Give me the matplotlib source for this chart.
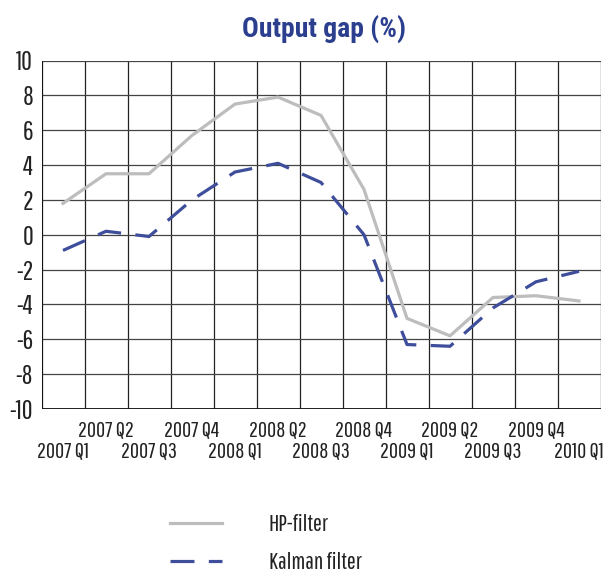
import matplotlib
matplotlib.use("Agg")
import matplotlib.pyplot as plt
from matplotlib.lines import Line2D
from matplotlib.ticker import FixedLocator

plt.rcParams['font.family'] = ['Pathway Gothic One', 'DejaVu Sans']

quarters = ['2007 Q1', '2007 Q2', '2007 Q3', '2007 Q4', '2008 Q1', '2008 Q2', '2008 Q3',
            '2008 Q4', '2009 Q1', '2009 Q2', '2009 Q3', '2009 Q4', '2010 Q1']
hp_filter = [1.8, 3.5, 3.5, 5.7, 7.5, 7.9, 6.85, 2.6, -4.8, -5.8, -3.6, -3.5, -3.8]
kalman_filter = [-0.9, 0.2, -0.1, 2.0, 3.6, 4.1, 3.0, 0.0, -6.3, -6.4, -4.2, -2.7, -2.1]
y_ticks = [-10, -8, -6, -4, -2, 0, 2, 4, 6, 8, 10]

W, H = 604, 574
fig = plt.figure(figsize=(W / 100, H / 100), dpi=100)
left, right, top, bottom = 41.5, 600.5, 60.5, 409.0
ax = fig.add_axes([left / W, 1 - bottom / H, (right - left) / W, (bottom - top) / H])

x = list(range(len(quarters)))
gray = '#BDBDBD'
blue = '#3E4E9B'
lw = 2.3
dash = (0, (7.5, 4.5))
ax.plot(x, hp_filter, color=gray, lw=lw, zorder=3)
ax.plot(x, kalman_filter, color=blue, lw=lw, linestyle=dash, zorder=4)

ax.set_xlim(-0.5, len(quarters) - 0.5)
ax.set_ylim(-10, 10)
ax.set_yticks(y_ticks)
ax.set_yticklabels([str(v) for v in y_ticks], fontsize=19, color='#222222')
ax.tick_params(axis='y', length=0, pad=6)

for b in range(len(quarters) + 1):
    ax.axvline(b - 0.5, color='#222222', lw=0.9, zorder=1)
for v in y_ticks:
    ax.axhline(v, color='#444444', lw=0.9, zorder=1)
ax.axhline(-10, color='#111111', lw=1.3, zorder=2)
ax.axvline(-0.5, color='#111111', lw=1.3, zorder=2)

# lower row (major): Q1, Q3, ...; upper row (minor): Q2, Q4, ...
major_idx = [i for i in x if i % 2 == 0]
minor_idx = [i for i in x if i % 2 == 1]
ax.xaxis.set_major_locator(FixedLocator(major_idx))
ax.xaxis.set_minor_locator(FixedLocator(minor_idx))
ax.set_xticklabels([quarters[i] for i in major_idx], fontsize=16, color='#222222')
ax.set_xticklabels([quarters[i] for i in minor_idx], minor=True, fontsize=16, color='#222222')
ax.tick_params(axis='x', which='major', length=0, pad=23)
ax.tick_params(axis='x', which='minor', length=0, pad=8)
for s in ax.spines.values():
    s.set_visible(False)

fig.text(324 / W, 1 - 29 / H, 'Output gap (%)', fontsize=20, fontweight='bold',
         color='#2B3F8E', ha='center', va='center',
         family=['Roboto Condensed', 'DejaVu Sans'])

handles = [Line2D([], [], color=gray, lw=lw),
           Line2D([], [], color=blue, lw=lw, linestyle=dash)]
fig.legend(handles, ['HP-filter', 'Kalman filter'], loc='upper left',
           bbox_to_anchor=(158 / W, 1 - 502 / H), frameon=False, fontsize=17,
           handlelength=2.2, handletextpad=2.0, labelspacing=0.72, borderpad=0,
           labelcolor='#222222')

fig.savefig('out.png', dpi=100)
